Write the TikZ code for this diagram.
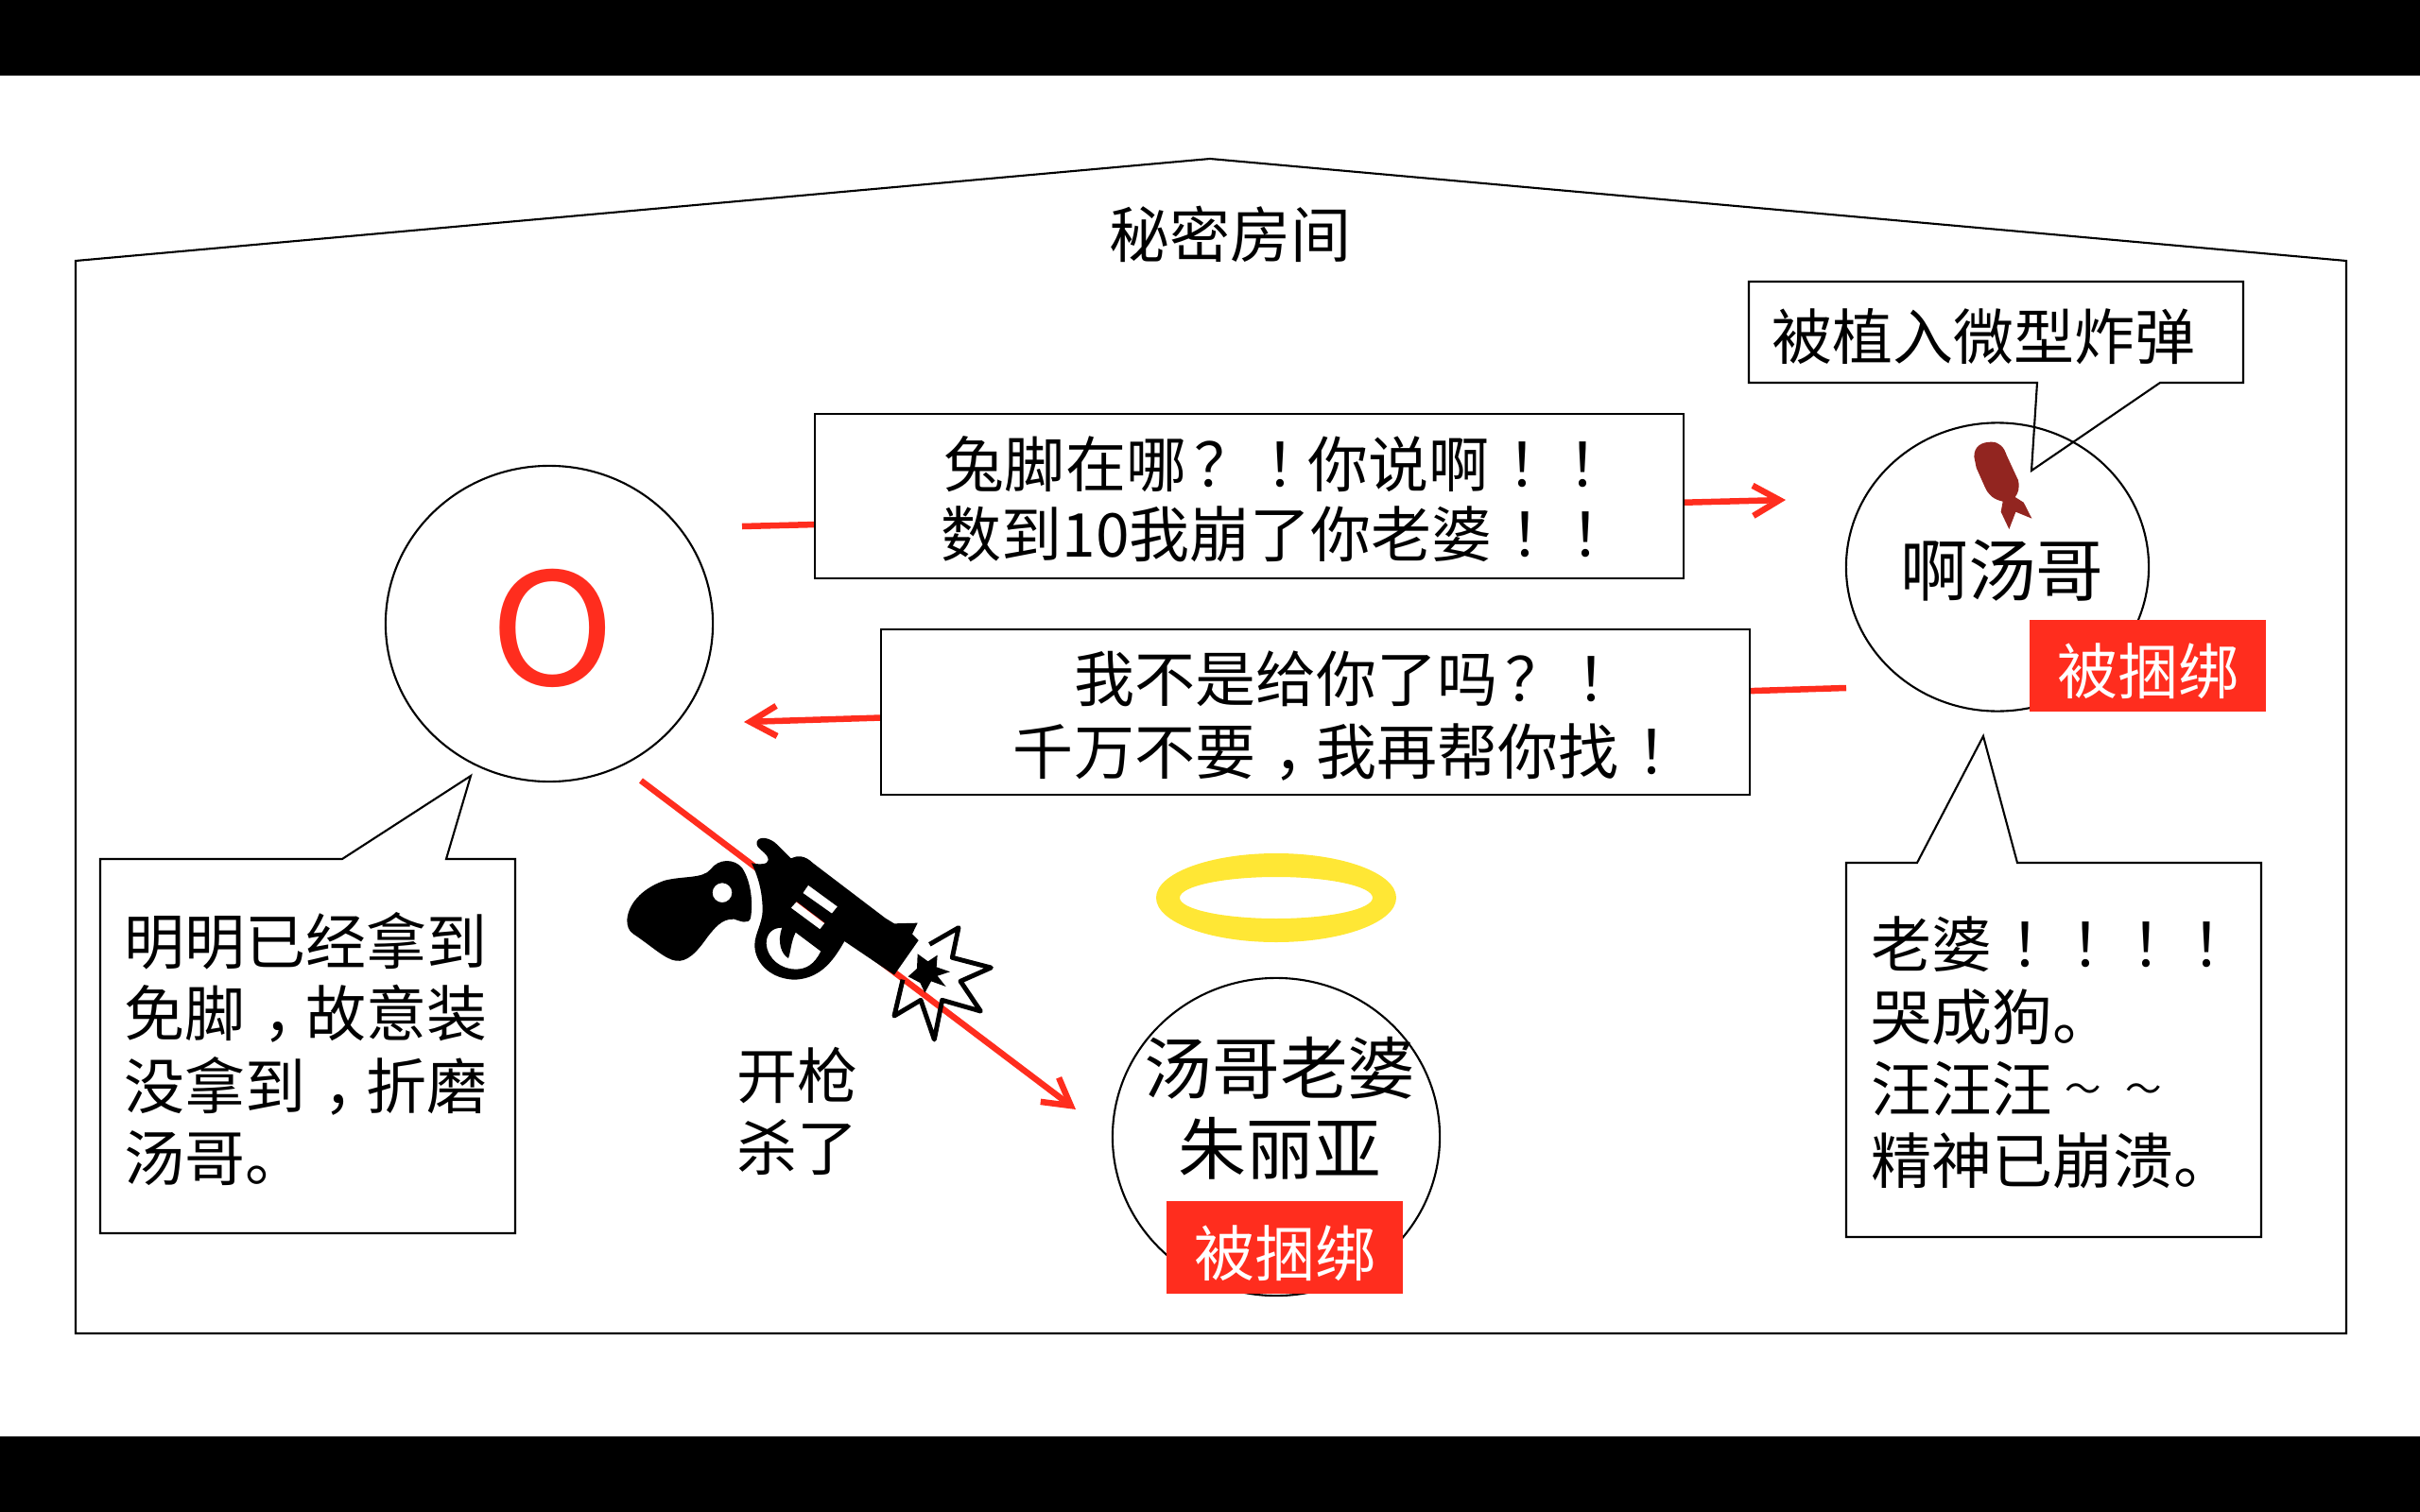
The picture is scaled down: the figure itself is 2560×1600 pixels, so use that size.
\documentclass[tikz,border=0pt]{standalone}
\usepackage{fontspec}
\setmainfont{Noto Sans CJK SC}
\usetikzlibrary{
  arrows.meta,
  positioning,
  shapes.geometric
}
\definecolor{roomRed}{RGB}{255,45,30}
\definecolor{roomHalo}{RGB}{255,231,53}
\definecolor{roomBomb}{RGB}{146,37,32}
% full-width marks sit in the middle of their cell
\newcommand{\fwmark}[2][.3em]{\makebox[1em][l]{\hspace{#1}#2}}
\newcommand{\fwtilde}{\makebox[1em][c]{\raisebox{.16em}{\scalebox{.6}{～}}}}
\tikzset{
  roomline/.style={
    draw=black,
    line width=0.6pt
  },
  speechbox/.style={
    roomline,
    fill=white,
    inner sep=0pt
  },
  speechtext/.style={
    align=center,
    inner sep=0pt,
    font=\fontsize{18.2}{21}\selectfont
  },
  person/.style={
    ellipse,
    roomline,
    inner sep=0pt
  },
  persontext/.style={
    align=center,
    inner sep=0pt,
    font=\fontsize{20.4}{24.2}\selectfont
  },
  plaintext/.style={
    inner sep=0pt,
    align=left,
    font=\fontsize{18.2}{21.7}\selectfont
  },
  boundtag/.style={
    fill=roomRed,
    text=white,
    inner sep=0pt,
    minimum width=2.5cm,
    minimum height=0.97cm,
    text height=0.68cm,
    text depth=0.08cm,
    font=\fontsize{18.2}{21}\selectfont
  },
  redarrow/.style={
    -{Straight Barb[length=2.8mm,width=3.2mm]},
    line width=1.85pt,
    draw=roomRed
  }
}
\begin{document}
\begin{tikzpicture}[x=0.01cm,y=-0.01cm]
  \useasboundingbox (0,0) rectangle (2560,1600);
  \fill[black] (0,0) rectangle (2560,80);
  \fill[black] (0,1520) rectangle (2560,1600);

  % room outline
  \draw[roomline] (80,276) -- (1280,168) -- (2482,276) -- (2482,1411) -- (80,1411) -- cycle;
  \node[plaintext] (roomtitle) at (1301,248) {秘密房间};

  % shouted lines, boxes go over them
  \coordinate (askfrom) at (785,557);
  \coordinate (askto) at (1889,529);
  \coordinate (replyfrom) at (1953,728);
  \coordinate (replyto) at (787,764);
  \draw[redarrow] (askfrom) -- (askto);
  \draw[redarrow] (replyfrom) -- (replyto);

  \node[speechbox, minimum width=9.19cm, minimum height=1.74cm] (askbox) at (1321.5,525) {};
  \node[speechtext] (asktext) at (1351,528)
    {兔脚在哪\fwmark[.14em]{？}\fwmark{！}你说啊\fwmark{！}\fwmark{！}\\数到10我崩了你老婆\fwmark{！}\fwmark{！}};
  \node[speechbox, minimum width=9.19cm, minimum height=1.75cm] (replybox) at (1391.5,753.5) {};
  \node[speechtext, font=\fontsize{18.2}{21.9}\selectfont] (replytext) at (1424,758)
    {我不是给你了吗\fwmark[.14em]{？}\fwmark{！}\\千万不要\fwmark{，}我再帮你找\fwmark{！}};

  % shooter
  \node[person, minimum width=3.46cm, minimum height=3.34cm] (shooter) at (581,660) {};
  \node[text=roomRed, inner sep=0pt, xscale=1.08, font=\fontsize{47}{47}\selectfont] (shootermark) at (585,665) {O};
  \draw[roomline] (106,909) -- (362,909) -- (498,821) -- (472,909) -- (545,909) -- (545,1305) -- (106,1305) -- cycle;
  \node[plaintext, anchor=west] (shooternote) at (131,1110)
    {明明已经拿到\\免脚\fwmark{，}故意装\\没拿到\fwmark{，}折磨\\汤哥。};

  % victim with bomb
  \draw[roomline] (1850,298) -- (2373,298) -- (2373,405) -- (2285,405) -- (2149,498) -- (2155,405) -- (1850,405) -- cycle;
  \node[plaintext] (bombnote) at (2098,356) {被植入微型炸弹};
  \node[person, minimum width=3.2cm, minimum height=3.05cm] (victim) at (2113,600) {};
  \node[persontext] (victimname) at (2118,604) {啊汤哥};
  \node[boundtag] (victimtag) at (2272,704.5) {被捆绑};
  \begin{scope}[shift={(1900,280)},x=0.01cm/3,y=-0.01cm/3]
    \fill[roomBomb] (565,610) .. controls (565,575) and (590,563) .. (620,563)
      .. controls (645,563) and (660,580) .. (668,605) -- (705,685)
      .. controls (710,710) and (705,725) .. (695,738) -- (722,755) -- (748,806)
      -- (697,785) -- (676,840) -- (650,785) -- (656,752)
      .. controls (625,745) and (610,730) .. (600,708) -- (572,645) -- cycle;
  \end{scope}
  \draw[roomline] (2028,913) -- (2098,779) -- (2134,913) -- (2392,913) -- (2392,1309) -- (1953,1309) -- (1953,913) -- cycle;
  \node[plaintext, anchor=west] (victimnote) at (1979,1114)
    {老婆\fwmark{！}\fwmark{！}\fwmark{！}\fwmark{！}\\哭成狗。\\汪汪汪\fwtilde\fwtilde\\精神已崩溃。};

  % wife
  \fill[roomHalo, even odd rule] (1350,950) ellipse (127 and 47) (1350,950) ellipse (102 and 22);
  \node[person, minimum width=3.46cm, minimum height=3.36cm] (wife) at (1350,1203) {};
  \node[persontext] (wifename) at (1354,1173) {汤哥老婆\\朱丽亚};
  \node[boundtag] (wifetag) at (1359,1320) {被捆绑};

  % shot
  \coordinate (shotfrom) at (678,826);
  \coordinate (shotto) at (1138,1174);
  \draw[redarrow] (shotfrom) -- (shotto);
  \node[plaintext, align=center] (shotnote) at (843,1176) {开枪\\杀了};

  \begin{scope}[shift={(620,860)},x=0.01cm/3,y=-0.01cm/3]
    % grip
    \fill[black, even odd rule] (130,340) .. controls (135,280) and (190,235) .. (250,215)
      .. controls (310,200) and (370,210) .. (395,180)
      .. controls (420,145) and (470,145) .. (495,175)
      .. controls (525,220) and (530,290) .. (522,335)
      .. controls (515,355) and (490,345) .. (470,338)
      .. controls (430,335) and (405,370) .. (385,395)
      .. controls (350,445) and (320,475) .. (285,470)
      .. controls (250,465) and (210,425) .. (150,385)
      .. controls (135,375) and (130,360) .. (130,340) -- cycle
      (432,254) circle (31);
    % frame, barrel and guard
    \fill[black, even odd rule] (542,92) .. controls (550,72) and (585,80) .. (605,100)
      -- (650,145) .. controls (670,135) and (695,135) .. (720,160)
      -- (950,335) -- (978,352) -- (1052,350) -- (1035,385) -- (1055,405) -- (978,515) -- (820,408)
      .. controls (790,460) and (750,525) .. (665,530)
      .. controls (590,530) and (535,480) .. (535,420)
      .. controls (535,385) and (560,350) .. (560,310)
      .. controls (560,250) and (545,200) .. (525,160)
      .. controls (550,165) and (578,165) .. (578,150)
      .. controls (578,125) and (535,115) .. (542,92) -- cycle
      (705,230) -- (798,298) -- (780,320) -- (688,255) -- cycle
      (668,282) -- (758,350) -- (742,370) -- (650,302) -- cycle
      (622,365) .. controls (590,365) and (572,385) .. (572,415)
      .. controls (575,465) and (620,497) .. (665,497)
      .. controls (700,497) and (725,480) .. (745,440)
      -- (665,380) .. controls (650,410) and (650,440) .. (642,462)
      .. controls (620,450) and (605,410) .. (622,365) -- cycle;
    % muzzle flash
    \draw[black, line width=1.4pt, line join=round] (1090,418) -- (1182,365) -- (1162,460) -- (1285,492)
      -- (1188,535) -- (1252,630) -- (1130,595) -- (1105,720) -- (1062,595) -- (978,645) -- (1005,530);
    \fill[black] (1052,448) -- (1085,472) -- (1115,452) -- (1112,490) -- (1155,505) -- (1115,518)
      -- (1142,552) -- (1095,535) -- (1075,572) -- (1060,540) -- (1022,520) -- (1050,495) -- cycle;
  \end{scope}
\end{tikzpicture}
\end{document}
